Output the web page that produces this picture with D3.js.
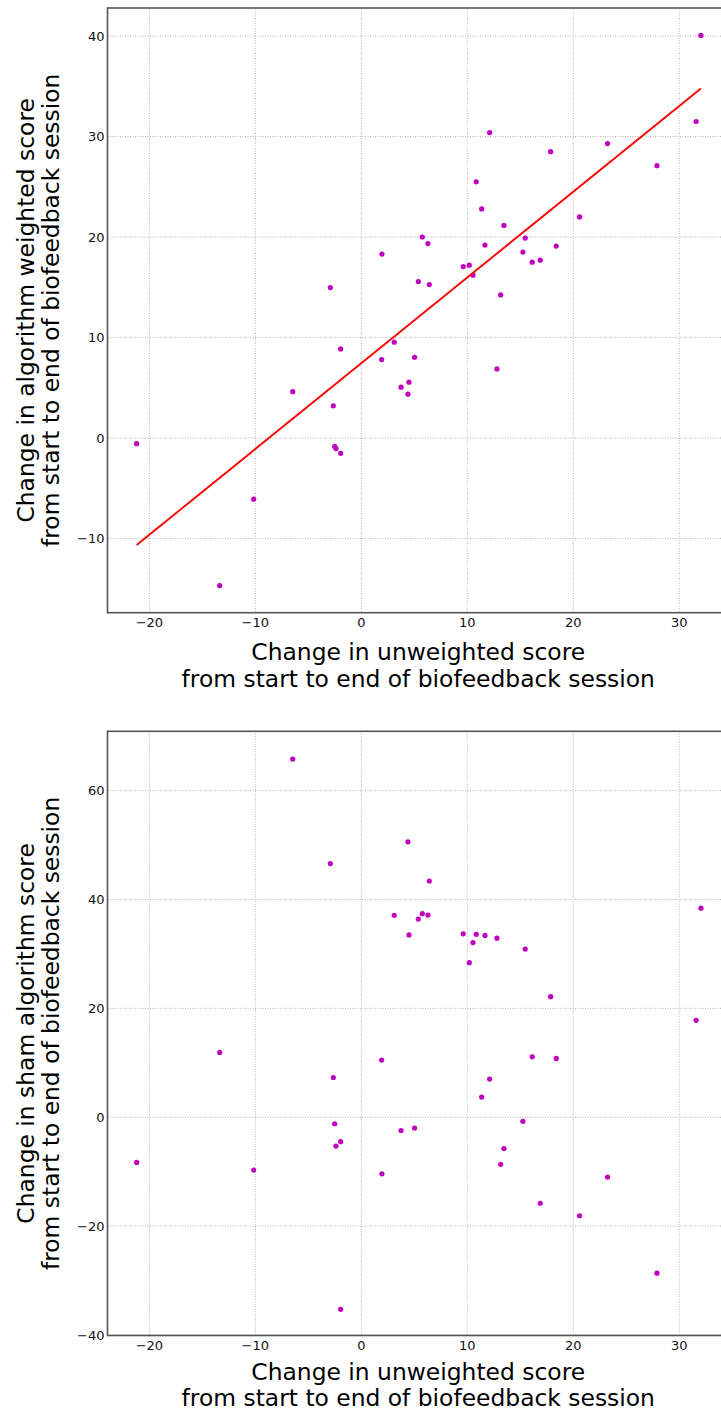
<!DOCTYPE html>
<html>
<head>
<meta charset="utf-8">
<script src="https://cdn.jsdelivr.net/npm/d3@7"></script>
<style>
    body { margin: 0; background: #fff; }
    svg { display: block; font-family: 'DejaVu Sans', sans-serif; }
</style>
</head>
<body>
<div class="canvas"></div>
<script>
// change in unweighted score (same subjects in both panels)
const unweighted = [
    -21.2, -13.36, -10.15, -6.47, -2.92, -2.64, -2.51, -2.39, -1.95, -1.95,
    1.95, 1.92, 3.11, 3.75, 4.5, 4.4, 5.03, 5.38, 5.76, 6.29, 6.42,
    9.62, 10.19, 10.54, 10.85, 11.36, 11.67, 12.11, 12.8, 13.15, 13.46,
    15.25, 15.47, 16.13, 16.89, 17.87, 18.4, 20.6, 23.24, 27.9, 31.6, 32.05
]

// change in algorithm weighted score
const weighted = [
    -0.57, -14.7, -6.1, 4.6, 14.97, 3.2, -0.83, -1.06, -1.53, 8.86,
    18.3, 7.8, 9.53, 5.05, 5.55, 4.35, 8.03, 15.57, 20.0, 19.35, 15.27,
    17.06, 17.2, 16.2, 25.5, 22.8, 19.2, 30.4, 6.87, 14.24, 21.15,
    18.5, 19.9, 17.5, 17.7, 28.5, 19.1, 22.0, 29.3, 27.1, 31.5, 40.07
]

// change in sham algorithm score
const sham = [
    -8.3, 11.9, -9.7, 65.8, 46.6, 7.3, -1.2, -5.3, -4.5, -35.3,
    -10.4, 10.5, 37.1, -2.45, 33.5, 50.6, -2.0, 36.4, 37.4, 37.15, 43.4,
    33.7, 28.4, 32.1, 33.6, 3.7, 33.4, 7.0, 32.9, -8.65, -5.75,
    -0.75, 30.9, 11.1, -15.8, 22.15, 10.8, -18.1, -11.0, -28.65, 17.8, 38.4
]

const xTicks = [-20, -10, 0, 10, 20, 30]
const yTicksTop = [-10, 0, 10, 20, 30, 40]
const yTicksBottom = [-40, -20, 0, 20, 40, 60]

const xLabel = ['Change in unweighted score', 'from start to end of biofeedback session']
const yLabelTop = ['Change in algorithm weighted score', 'from start to end of biofeedback session']
const yLabelBottom = ['Change in sham algorithm score', 'from start to end of biofeedback session']

const width = 721
const height = 1412

const svg = d3.select('.canvas').append('svg').attr('width', width).attr('height', height)

const fmt = d => d < 0 ? '\u2212' + Math.abs(d) : '' + d

const panel = (opts) => {
    const { top, bottom, yDomain, yTicks, ys, yLabel, xLabelY, fit } = opts
    const left = 107.5
    const right = 729

    const x = d3.scaleLinear().domain([-23.95, 34.7]).range([left, right])
    const y = d3.scaleLinear().domain(yDomain).range([bottom, top])

    const g = svg.append('g')

    // dotted grid
    g.append('g').selectAll('line').data(xTicks).enter().append('line')
        .attr('x1', d => x(d)).attr('x2', d => x(d))
        .attr('y1', top).attr('y2', bottom)
        .attr('stroke', '#b4b4b4').attr('stroke-width', 1).attr('stroke-dasharray', '1,1.5')
    g.append('g').selectAll('line').data(yTicks).enter().append('line')
        .attr('x1', left).attr('x2', right)
        .attr('y1', d => y(d)).attr('y2', d => y(d))
        .attr('stroke', '#b4b4b4').attr('stroke-width', 1).attr('stroke-dasharray', '1,1.5')

    // points
    g.append('g').selectAll('circle').data(unweighted).enter().append('circle')
        .attr('cx', d => x(d))
        .attr('cy', (d, i) => y(ys[i]))
        .attr('r', 2.6)
        .attr('fill', '#bf00bf')

    // least squares line
    if (fit) {
        const mx = d3.mean(unweighted)
        const my = d3.mean(ys)
        const slope = d3.sum(unweighted, (d, i) => (d - mx) * (ys[i] - my)) / d3.sum(unweighted, d => (d - mx) ** 2)
        const icpt = my - slope * mx
        const ext = d3.extent(unweighted)
        g.append('line')
            .attr('x1', x(ext[0])).attr('y1', y(icpt + slope * ext[0]))
            .attr('x2', x(ext[1])).attr('y2', y(icpt + slope * ext[1]))
            .attr('stroke', '#ff0000').attr('stroke-width', 1.9)
    }

    // frame
    g.append('rect')
        .attr('x', left).attr('y', top)
        .attr('width', right - left).attr('height', bottom - top)
        .attr('fill', 'none').attr('stroke', '#555').attr('stroke-width', 1.6)

    // tick labels
    g.append('g').selectAll('text').data(xTicks).enter().append('text')
        .attr('x', d => x(d)).attr('y', bottom + 14.5)
        .attr('text-anchor', 'middle').attr('font-size', 13).attr('fill', '#111')
        .text(fmt)
    g.append('g').selectAll('text').data(yTicks).enter().append('text')
        .attr('x', left - 3).attr('y', d => y(d)).attr('dy', '0.36em')
        .attr('text-anchor', 'end').attr('font-size', 13).attr('fill', '#111')
        .text(fmt)

    // axis titles
    const cx = (left + right) / 2
    xLabel.forEach((t, i) => {
        g.append('text')
            .attr('x', cx).attr('y', xLabelY[i])
            .attr('text-anchor', 'middle').attr('font-size', 23.4).attr('fill', '#000')
            .text(t)
    })
    const cy = (top + bottom) / 2
    yLabel.forEach((t, i) => {
        const bx = [34, 59][i]
        g.append('text')
            .attr('transform', `translate(${bx}, ${cy}) rotate(-90)`)
            .attr('text-anchor', 'middle').attr('font-size', 23.4).attr('fill', '#000')
            .text(t)
    })
}

panel({
    top: 8, bottom: 612.7,
    yDomain: [-17.4, 42.8], yTicks: yTicksTop,
    ys: weighted, yLabel: yLabelTop,
    xLabelY: [660, 687], fit: true
})

panel({
    top: 731.3, bottom: 1335.5,
    yDomain: [-40.1, 70.9], yTicks: yTicksBottom,
    ys: sham, yLabel: yLabelBottom,
    xLabelY: [1380, 1406], fit: false
})
</script>
</body>
</html>
